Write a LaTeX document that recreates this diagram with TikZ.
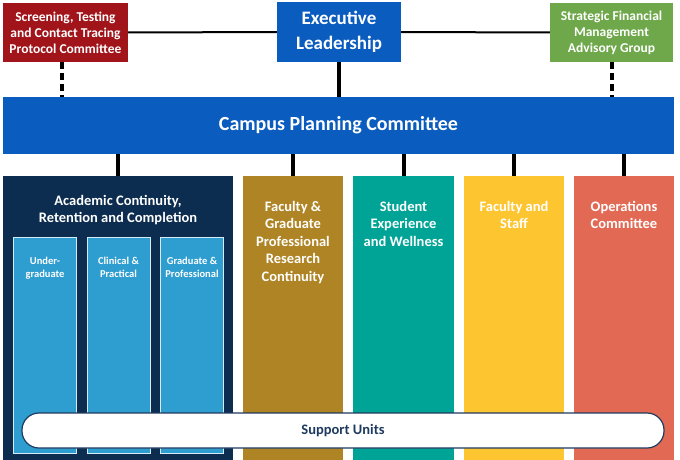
\documentclass[tikz,border=0pt]{standalone}
\usepackage{fontspec}
\setmainfont{Carlito}
\definecolor{cblue}{HTML}{0B5CBF}
\definecolor{cnavy}{HTML}{0C2D4F}
\definecolor{clight}{HTML}{2E9DD0}
\definecolor{cgold}{HTML}{AF8424}
\definecolor{cteal}{HTML}{00A497}
\definecolor{cyellow}{HTML}{FDC530}
\definecolor{cred}{HTML}{E26A55}
\definecolor{cdred}{HTML}{A0141A}
\definecolor{cgreen}{HTML}{6EA84A}
\definecolor{ctext}{HTML}{1F3A5F}
\begin{document}
\begin{tikzpicture}[x=1pt,y=-1pt,
  box/.style={rectangle,inner sep=0pt,text=white,font=\bfseries,align=center},
  colbox/.style={rectangle,inner sep=0pt,minimum height=284pt,anchor=north},
  coltext/.style={text=white,font=\bfseries\fontsize{14.5}{17.5}\selectfont,align=center,anchor=north,inner sep=0pt},
  subbox/.style={rectangle,inner sep=0pt,fill=clight,draw=white!80!clight,line width=0.8pt,minimum width=63pt,minimum height=216pt,anchor=north},
  subtext/.style={text=white,font=\bfseries\fontsize{10.5}{13}\selectfont,align=center,anchor=north,inner sep=0pt},
  link/.style={line width=4pt,black},
  hlink/.style={line width=2pt,black},
  dlink/.style={line width=4pt,black,dash pattern=on 7pt off 4pt}]
\useasboundingbox (0,0) rectangle (680,460);
% top row
\node[box,fill=cdred,minimum width=125pt,minimum height=59pt,font=\bfseries\fontsize{13.5}{16}\selectfont] (stt) at (65.5,32.5) {Screening, Testing\\and Contact Tracing\\Protocol Committee};
\node[box,fill=cblue,minimum width=124pt,minimum height=60pt,font=\bfseries\fontsize{19}{25}\selectfont] (exec) at (339,32) {Executive\\Leadership};
\node[box,fill=cgreen,minimum width=123pt,minimum height=59pt,font=\bfseries\fontsize{13.5}{16}\selectfont] (sfm) at (611.5,32.5) {Strategic Financial\\Management\\Advisory Group};
% campus
\node[box,fill=cblue,minimum width=671pt,minimum height=57pt,font=\bfseries\fontsize{20}{24}\selectfont] (cpc) at (338.5,125.5) {Campus Planning Committee};
% connectors top
\draw[hlink] (stt.east) -- (exec.west);
\draw[hlink] (exec.east) -- (sfm.west);
\draw[link] (exec.south) -- (exec.south |- cpc.north);
\draw[dlink] ([xshift=-3.5pt]stt.south) -- ([xshift=-3.5pt]stt.south |- cpc.north);
\draw[dlink] (sfm.south) -- (sfm.south |- cpc.north);
% columns
\node[colbox,fill=cnavy,minimum width=230pt] (acad) at (118,176) {};
\node[colbox,fill=cgold,minimum width=100pt] (fgp) at (293,176) {};
\node[colbox,fill=cteal,minimum width=101pt] (stud) at (403.5,176) {};
\node[colbox,fill=cyellow,minimum width=100pt] (fas) at (514,176) {};
\node[colbox,fill=cred,minimum width=100pt] (ops) at (624,176) {};
\foreach \c in {acad,fgp,stud,fas,ops}
  \draw[link] (cpc.south -| \c.north) -- (\c.north);
% column texts
\node[coltext] (acadt) at (118,195) {Academic Continuity,\\Retention and Completion};
\node[coltext] (fgpt) at (293,201) {Faculty \&\\Graduate\\Professional\\Research\\Continuity};
\node[coltext] (studt) at (403.5,201) {Student\\Experience\\and Wellness};
\node[coltext] (fast) at (514,201) {Faculty and\\Staff};
\node[coltext] (opst) at (624,201) {Operations\\Committee};
% sub boxes
\node[subbox] (ug) at (45,237) {};
\node[subbox] (cp) at (118.5,237) {};
\node[subbox] (gp) at (192,237) {};
\node[subtext] (ugt) at (45,257) {Under-\\graduate};
\node[subtext] (cpt) at (118.5,257) {Clinical \&\\Practical};
\node[subtext] (gpt) at (192,257) {Graduate \&\\Professional};
% support units
\node[rectangle,rounded corners=17pt,fill=white,draw=ctext,line width=1.2pt,minimum width=642pt,minimum height=35pt,inner sep=0pt,text=ctext,font=\bfseries\fontsize{14.5}{16}\selectfont] (su) at (343,430.5) {Support Units};
\end{tikzpicture}
\end{document}
